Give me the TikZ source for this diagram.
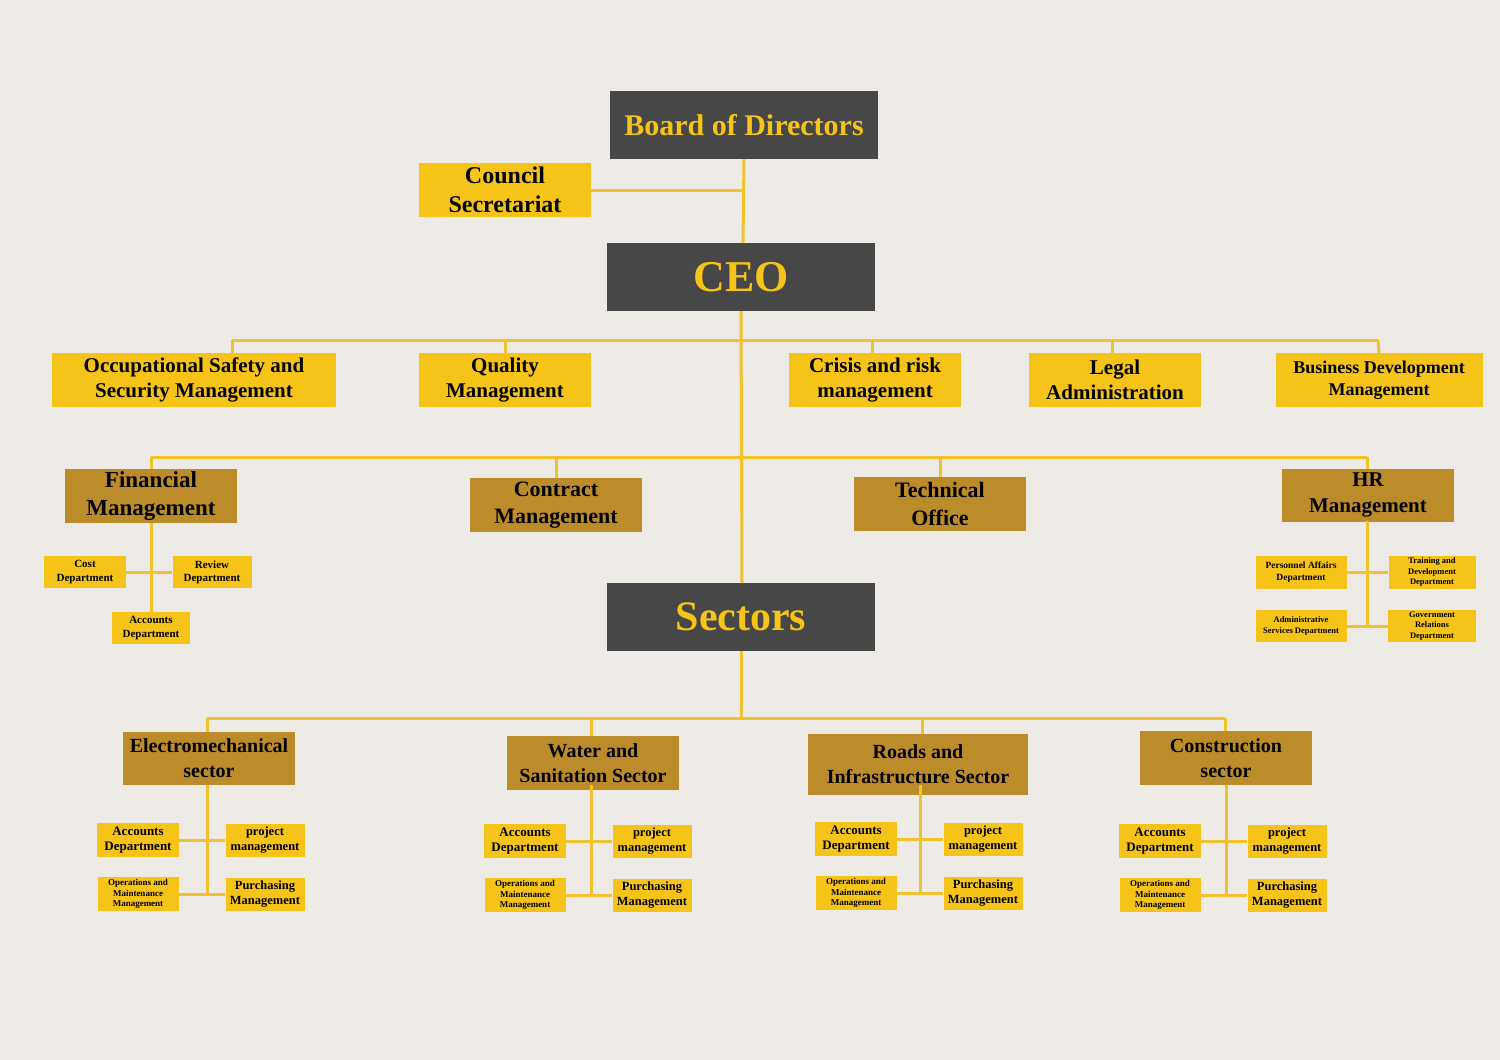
\documentclass[tikz,border=0pt]{standalone}
\usepackage{fontspec}
\setmainfont{Liberation Serif}
\begin{document}
\begin{tikzpicture}[x=1pt,y=-1pt,
  ln/.style={draw=lineY,line width=3pt},
  dk/.style={fill=darkG,text=yellowB,font={\bfseries\fontsize{#1}{#1}\selectfont},inner sep=0pt},
  yl/.style={fill=yellowB,text=black,font={\pgfmathsetmacro\ls{1.2*#1}\bfseries\fontsize{#1}{\ls}\selectfont},align=center,inner sep=0pt},
  br/.style={fill=brownB,text=black,font={\pgfmathsetmacro\ls{1.25*#1}\bfseries\fontsize{#1}{\ls}\selectfont},align=center,inner sep=0pt}]
\definecolor{bgc}{HTML}{EEEBE6}
\definecolor{darkG}{HTML}{474747}
\definecolor{yellowB}{HTML}{F6C419}
\definecolor{brownB}{HTML}{BD8C2A}
\definecolor{lineY}{HTML}{F2C12E}
\fill[bgc] (0,0) rectangle (1500,1060);
\useasboundingbox (0,0) rectangle (1500,1060);
% nodes
\node[dk=30,minimum width=268,minimum height=68] (board) at (744,125) {Board of Directors};
\node[yl=24,minimum width=172,minimum height=54] (council) at (505,190) {Council\\Secretariat};
\node[dk=44,minimum width=268,minimum height=68] (ceo) at (741,277) {CEO};
\node[yl=21,minimum width=284,minimum height=54] (oss) at (194,380) {Occupational Safety and\\Security Management};
\node[yl=21,minimum width=172,minimum height=54] (qual) at (505,380) {Quality\\Management};
\node[yl=21,minimum width=172,minimum height=54] (crisis) at (875,380) {Crisis and risk\\management};
\node[yl=21,minimum width=172,minimum height=54] (legal) at (1115,380) {Legal\\Administration};
\node[yl=18,minimum width=207,minimum height=54] (busdev) at (1379,380) {Business Development\\Management};
\node[br=23,minimum width=172,minimum height=54] (fin) at (151,496) {Financial\\Management};
\node[br=22,minimum width=172,minimum height=54] (contract) at (556,505) {Contract\\Management};
\node[br=22,minimum width=172,minimum height=54] (tech) at (940,504) {Technical\\Office};
\node[br=21,minimum width=172,minimum height=53] (hr) at (1368,495) {HR\\Management};
\node[dk=42,minimum width=268,minimum height=68] (sectors) at (741,617) {Sectors};
\node[br=20,minimum width=172,minimum height=53] (s1) at (209,758) {Electromechanical\\sector};
\node[br=20,minimum width=172,minimum height=54] (s2) at (593,763) {Water and\\Sanitation Sector};
\node[br=20,minimum width=220,minimum height=61] (s3) at (918,764) {Roads and\\Infrastructure Sector};
\node[br=20,minimum width=172,minimum height=54] (s4) at (1226,758) {Construction\\sector};
% financial subs
\node[yl=11,minimum width=82,minimum height=32] (cost) at (85,572) {Cost\\Department};
\node[yl=11,minimum width=79,minimum height=32] (review) at (212,572) {Review\\Department};
\node[yl=11,minimum width=78,minimum height=32] (acc) at (151,628) {Accounts\\Department};
% HR subs
\node[yl=9.5,minimum width=91,minimum height=33] (pers) at (1301,572) {Personnel Affairs\\Department};
\node[yl=8.5,minimum width=87,minimum height=33] (train) at (1432,572) {Training and\\Development\\Department};
\node[yl=8.5,minimum width=91,minimum height=32] (admin) at (1301,626) {Administrative\\Services Department};
\node[yl=8.5,minimum width=88,minimum height=32] (gov) at (1432,626) {Government\\Relations\\Department};
% sector subs
\foreach \n/\vx/\lx/\rx/\ya/\yb in {1/207/138/265/840/894, 2/591/525/652/841/895, 3/920/856/983/839/893, 4/1226/1160/1287/841/895}{
  \node[yl=13,minimum width=82,minimum height=34] (a\n) at (\lx,\ya) {Accounts\\Department};
  \node[yl=12.5,minimum width=79,minimum height=33] (p\n) at (\rx,\ya) {project\\management};
  \node[yl=9,minimum width=81,minimum height=34] (o\n) at (\lx,\yb) {Operations and\\Maintenance\\Management};
  \node[yl=12.5,minimum width=79,minimum height=33] (u\n) at (\rx,\yb) {Purchasing\\Management};
  \coordinate (t\n) at (\vx,785);
  \coordinate (b\n) at (\vx,\yb);
  \draw[ln] (t\n) -- (b\n);
  \draw[ln] (a\n.east) -- (p\n.west);
  \draw[ln] (o\n.east) -- (u\n.west);
}
% connectors
\coordinate (cj) at (743,190);
\draw[ln] (board.south) -- (743,243);
\draw[ln] (council.east) -- (cj);
\draw[ln] (ceo.south) -- (742,583);
\coordinate (r1l) at (232,340); \coordinate (r1r) at (1378,340);
\draw[ln] (r1l) -- (r1r);
\draw[ln] (r1l) -- (232,353);
\draw[ln] (505,340) -- (qual.north);
\draw[ln] (872,340) -- (872,353);
\draw[ln] (1112,340) -- (1112,353);
\draw[ln] (r1r) -- (busdev.north);
\coordinate (r2l) at (151,457); \coordinate (r2r) at (1367,457);
\draw[ln] (r2l) -- (r2r);
\draw[ln] (r2l) -- (fin.north);
\draw[ln] (556,457) -- (contract.north);
\draw[ln] (940,457) -- (tech.north);
\draw[ln] (r2r) -- (1367,469);
\draw[ln] (fin.south) -- (acc.north);
\draw[ln] (cost.east) -- (review.west);
\draw[ln] (1367,521) -- (1367,626);
\draw[ln] (pers.east) -- (train.west);
\draw[ln] (admin.east) -- (gov.west);
\draw[ln] (sectors.south) -- (741,718);
\coordinate (r3l) at (207,718); \coordinate (r3r) at (1225,718);
\draw[ln] (r3l) -- (r3r);
\draw[ln] (r3l) -- (207,732);
\draw[ln] (591,718) -- (591,736);
\draw[ln] (922,718) -- (922,734);
\draw[ln] (r3r) -- (1225,731);
\end{tikzpicture}
\end{document}
